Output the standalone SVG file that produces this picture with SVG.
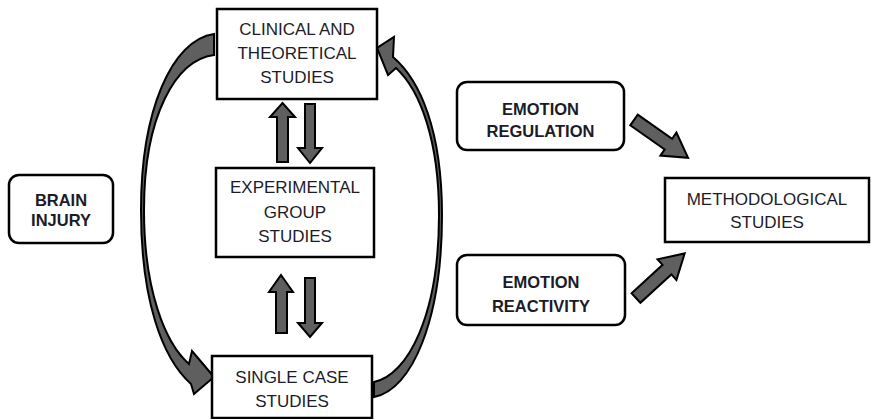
<svg xmlns="http://www.w3.org/2000/svg" width="871" height="419" viewBox="0 0 871 419">
<style>
.box{fill:#fff;stroke:#000;stroke-width:2.5}
.t{font-family:"Liberation Sans",Arial,sans-serif;font-size:17px;fill:#1c1c28;text-anchor:middle}
.b{font-family:"Liberation Sans",Arial,sans-serif;font-size:16.5px;font-weight:bold;fill:#1c1c28;text-anchor:middle}
.ar{fill:#5f5f5f;stroke:#000;stroke-width:2;stroke-linejoin:miter}
</style>
<defs>
<path id="blk" d="M0,-6.5 L42,-6.5 L42,-14 L66,0 L42,14 L42,6.5 L0,6.5 Z"/>
</defs>
<rect width="871" height="419" fill="#fff"/>
<g id="connectors">
<path class="ar" d="M214,34 C172,40 141,110 141,210 C141,300 162,358 191,384 L194,394 L214,377 L192,351 L189,364 C165,343 144,290 144,210 C144,115 176,60 214,55 Z"/>
<path class="ar" d="M374,397 C412,390 442,320 442,215 C442,130 420,80 393,57 L394,37 L377,48 L388,75 L396,68 C420,90 439,140 439,215 C439,315 408,375 374,382 Z"/>
<path class="ar" d="M282.5,103 L295,117 L288,117 L288,162 L277,162 L277,117 L270,117 Z"/>
<path class="ar" d="M305,104 L315,104 L315,148 L322,148 L310,163 L298,148 L305,148 Z"/>
<path class="ar" d="M281,275 L293,292 L287,292 L287,333 L276,333 L276,292 L269,292 Z"/>
<path class="ar" d="M305,278 L315,278 L315,323 L322,323 L310,337 L298,323 L305,323 Z"/>
<use href="#blk" class="ar" transform="translate(634,120) rotate(35)"/>
<use href="#blk" class="ar" transform="translate(636,298) rotate(-42.5)"/>
</g>
<g id="clinical">
<rect class="box" x="217" y="9" width="160" height="90"/>
<text class="t" x="297" y="35">CLINICAL AND</text>
<text class="t" x="297" y="59">THEORETICAL</text>
<text class="t" x="297" y="83">STUDIES</text>
</g>
<g id="experimental">
<rect class="box" x="216" y="168" width="158" height="89"/>
<text class="t" x="295" y="193">EXPERIMENTAL</text>
<text class="t" x="295" y="218">GROUP</text>
<text class="t" x="295" y="242">STUDIES</text>
</g>
<g id="singlecase">
<rect class="box" x="212" y="356" width="160" height="62"/>
<text class="t" x="292" y="383">SINGLE CASE</text>
<text class="t" x="292" y="407">STUDIES</text>
</g>
<g id="brain">
<rect class="box" x="9" y="175" width="104" height="68" rx="10"/>
<text class="b" x="61" y="206">BRAIN</text>
<text class="b" x="61" y="226">INJURY</text>
</g>
<g id="regulation">
<rect class="box" x="457" y="82" width="167" height="68" rx="10"/>
<text class="b" x="540.5" y="115">EMOTION</text>
<text class="b" x="540.5" y="137">REGULATION</text>
</g>
<g id="reactivity">
<rect class="box" x="457" y="255" width="168" height="70" rx="10"/>
<text class="b" x="541" y="288">EMOTION</text>
<text class="b" x="541" y="312">REACTIVITY</text>
</g>
<g id="methodological">
<rect class="box" x="665" y="178" width="204" height="64"/>
<text class="t" x="767" y="205">METHODOLOGICAL</text>
<text class="t" x="767" y="228">STUDIES</text>
</g>
</svg>
